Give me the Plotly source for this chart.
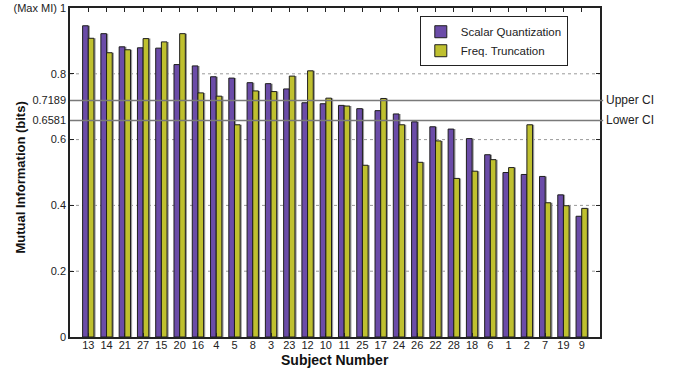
import plotly.graph_objects as go

# Subjects ordered by scalar-quantization mutual information
subjects = ["13", "14", "21", "27", "15", "20", "16", "4", "5", "8", "3", "23", "12", "10",
            "11", "25", "17", "24", "26", "22", "28", "18", "6", "1", "2", "7", "19", "9"]
scalar_quant = [0.946, 0.922, 0.882, 0.879, 0.878, 0.828, 0.824, 0.791, 0.787, 0.773,
                0.770, 0.754, 0.712, 0.709, 0.704, 0.694, 0.688, 0.678, 0.654, 0.639,
                0.632, 0.603, 0.554, 0.500, 0.494, 0.488, 0.432, 0.367]
freq_trunc = [0.908, 0.864, 0.873, 0.907, 0.897, 0.922, 0.742, 0.732, 0.645, 0.748,
              0.746, 0.793, 0.809, 0.726, 0.702, 0.522, 0.725, 0.645, 0.531, 0.596,
              0.482, 0.504, 0.539, 0.515, 0.645, 0.408, 0.399, 0.391]

upper_ci = 0.7189
lower_ci = 0.6581

y_tickvals = [0, 0.2, 0.4, 0.6, lower_ci, upper_ci, 0.8, 1]
y_ticktext = ["0", "0.2", "0.4", "0.6", "0.6581", "0.7189", "0.8", "(Max MI) 1"]
grid_levels = [0.2, 0.4, 0.6, 0.8]

positions = list(range(1, len(subjects) + 1))

PURPLE = "#6b4ca8"
OLIVE = "#bfc02f"
EDGE = "#1e1e1e"
SHADOW = "#9a9a9a"
FONT = "Liberation Sans, Arial, Helvetica, sans-serif"

bar_w = 0.31
shift = 0.09  # drop-shadow displacement

fig = go.Figure()

# soft drop shadows behind each bar
for vals, off in ((scalar_quant, -bar_w), (freq_trunc, 0.0)):
    fig.add_trace(go.Bar(
        x=positions, y=vals, width=bar_w, offset=off + shift,
        marker=dict(color=SHADOW, line=dict(width=0)),
        showlegend=False, hoverinfo="skip",
    ))

fig.add_trace(go.Bar(
    x=positions, y=scalar_quant, width=bar_w, offset=-bar_w,
    name="Scalar Quantization",
    marker=dict(color=PURPLE, line=dict(color=EDGE, width=1)),
))
fig.add_trace(go.Bar(
    x=positions, y=freq_trunc, width=bar_w, offset=0.0,
    name="Freq. Truncation",
    marker=dict(color=OLIVE, line=dict(color=EDGE, width=1)),
))

shapes = []
for g in grid_levels:
    shapes.append(dict(type="line", xref="paper", yref="y", x0=0, x1=1, y0=g, y1=g,
                       line=dict(color="#9a9a9a", width=1, dash="dot"), layer="below"))
for ci in (upper_ci, lower_ci):
    shapes.append(dict(type="line", xref="paper", yref="y", x0=0, x1=1.006, y0=ci, y1=ci,
                       line=dict(color="#7a7a7a", width=1.5), layer="above"))

annotations = [
    dict(text="Upper CI", xref="paper", yref="y", x=1.008, y=upper_ci, xanchor="left",
         yanchor="middle", showarrow=False, font=dict(family=FONT, size=12, color="#222")),
    dict(text="Lower CI", xref="paper", yref="y", x=1.008, y=lower_ci, xanchor="left",
         yanchor="middle", showarrow=False, font=dict(family=FONT, size=12, color="#222")),
    dict(text="<b>Mutual Information (bits)</b>", xref="paper", yref="paper",
         x=-0.094, y=0.485, textangle=-90, showarrow=False, xanchor="center", yanchor="middle",
         font=dict(family=FONT, size=13, color="#111")),
    dict(text="<b>Subject Number</b>", xref="paper", yref="paper",
         x=0.5, y=-0.07, showarrow=False, xanchor="center", yanchor="middle",
         font=dict(family=FONT, size=14, color="#111")),
]

fig.update_layout(
    width=684, height=368,
    margin=dict(l=70, r=84, t=8, b=31, autoexpand=False),
    paper_bgcolor="white", plot_bgcolor="white",
    barmode="overlay",
    font=dict(family=FONT, size=11, color="#222"),
    shapes=shapes, annotations=annotations,
    legend=dict(x=0.66, y=0.975, xanchor="left", yanchor="top",
                bgcolor="white", bordercolor="#222", borderwidth=1,
                font=dict(family=FONT, size=11.5, color="#222"),
                itemwidth=30, tracegroupgap=0),
    xaxis=dict(range=[0, 29], tickmode="array", tickvals=positions, ticktext=subjects,
               automargin=False, ticklabelstandoff=-3,
               showgrid=False, zeroline=False, showline=True, linecolor="#222", linewidth=1.5,
               mirror="ticks", ticks="inside", ticklen=4, tickcolor="#222",
               tickfont=dict(size=11)),
    yaxis=dict(range=[0, 1], tickmode="array", tickvals=y_tickvals, ticktext=y_ticktext,
               automargin=False,
               showgrid=False, zeroline=False, showline=True, linecolor="#222", linewidth=1.5,
               mirror="ticks", ticks="inside", ticklen=4, tickcolor="#222",
               tickfont=dict(size=11)),
)

fig.write_html("out.html")
